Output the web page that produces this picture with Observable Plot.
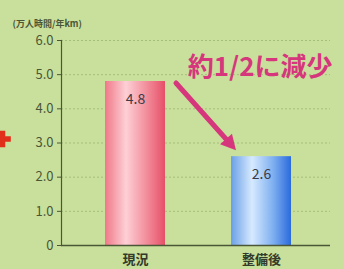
<!DOCTYPE html>
<html><head><meta charset="utf-8">
<script src="https://cdn.jsdelivr.net/npm/d3@7"></script>
<script src="https://cdn.jsdelivr.net/npm/@observablehq/plot@0.6"></script>
<style>
body{margin:0;background:#c9e09c;}
#chart svg{display:block;}
</style>
</head><body><div id="chart"></div>
<script>
const categories = ["現況", "整備後"];
const values = [4.8, 2.6];
const valueLabels = ["4.8", "2.6"];
const yTicks = [0, 1, 2, 3, 4, 5, 6];
const yTickLabels = ["0", "1.0", "2.0", "3.0", "4.0", "5.0", "6.0"];
const yAxisTitle = "(万人時間/年km)";
const annotation = "約1/2に減少";
const barGradients = ["gradPink", "gradBlue"];

const data = categories.map((c, i) => ({category: c, value: values[i], label: valueLabels[i], grad: barGradients[i]}));

const ink = "#4a5636";
const chart = Plot.plot({
  width: 344, height: 269,
  marginLeft: 61, marginRight: 14, marginTop: 40, marginBottom: 24,
  style: {background: "#c9e09c", fontFamily: "'Noto Sans CJK JP', sans-serif", overflow: "visible"},
  x: {domain: categories, paddingInner: 0.52, paddingOuter: 0.327, align: 0.53, label: null},
  y: {domain: [0, 6], label: null},
  color: {type: "identity"},
  marks: [
    Plot.gridY(yTicks, {stroke: "#6f8c4c", strokeOpacity: 0.4, strokeDasharray: "2,2"}),
    Plot.barY(data, {x: "category", y: "value", fill: d => `url(#${d.grad})`}),
    Plot.text(data, {x: "category", y: "value", text: "label", dy: 18, fontSize: 14, fill: "#3b3b48"}),
    Plot.ruleY([0], {stroke: ink, strokeWidth: 1.5}),
    Plot.frame({anchor: "left", stroke: ink, strokeWidth: 1.2}),
    Plot.axisY({ticks: yTicks, tickFormat: d => yTickLabels[yTicks.indexOf(d)], tickSize: 4, tickPadding: 4, fontSize: 13, color: ink, label: null}),
    Plot.axisX({tickSize: 0, tickPadding: 9, fontSize: 13, fontWeight: "bold", color: "#333a2a", label: null}),
    Plot.text([yAxisTitle], {frameAnchor: "top-left", dx: -49, dy: -20, textAnchor: "start", fontSize: 9, fontWeight: "bold", fill: ink}),
    Plot.text([annotation], {frameAnchor: "top-right", dx: 2, dy: 17, textAnchor: "end", fontSize: 26, fontWeight: "bold", fill: "#d6367c"}),
    Plot.dot({length: 1}, {frameAnchor: "left", dx: -59, dy: -4, symbol: "cross", r: 7, fill: "#e0301c"})
  ]
});
document.getElementById("chart").appendChild(chart);

const svg = d3.select(chart);
const defs = svg.insert("defs", ":first-child");
const grads = {
  gradPink: [["0%", "#f07888"], ["35%", "#fdd0d6"], ["70%", "#f28c9a"], ["100%", "#e65068"]],
  gradBlue: [["0%", "#6a9fe6"], ["35%", "#d6eaff"], ["70%", "#7fb0f0"], ["100%", "#2a6adc"]]
};
for (const [id, stops] of Object.entries(grads)) {
  const g = defs.append("linearGradient").attr("id", id).attr("x1", "0").attr("x2", "1").attr("y1", "0").attr("y2", "0");
  for (const [o, c] of stops) g.append("stop").attr("offset", o).attr("stop-color", c);
}

// annotation arrow positioned from the library's scales
const xs = chart.scale("x"), ys = chart.scale("y");
const sx = xs.apply(categories[0]) + xs.bandwidth + 11, sy = ys.apply(values[0]) + 2;
const ex = xs.apply(categories[1]) + 5, ey = ys.apply(values[1]) - 6;
const dxv = ex - sx, dyv = ey - sy, len = Math.hypot(dxv, dyv);
const ux = dxv / len, uy = dyv / len, head = 15, hw = 8;
const bx = ex - ux * head, by = ey - uy * head;
svg.append("line").attr("x1", sx).attr("y1", sy).attr("x2", bx).attr("y2", by)
  .attr("stroke", "#d6367c").attr("stroke-width", 5).attr("stroke-linecap", "round");
svg.append("path")
  .attr("d", `M${ex},${ey}L${bx - uy * hw},${by + ux * hw}L${bx + uy * hw},${by - ux * hw}Z`)
  .attr("fill", "#d6367c");
</script>
</body></html>
